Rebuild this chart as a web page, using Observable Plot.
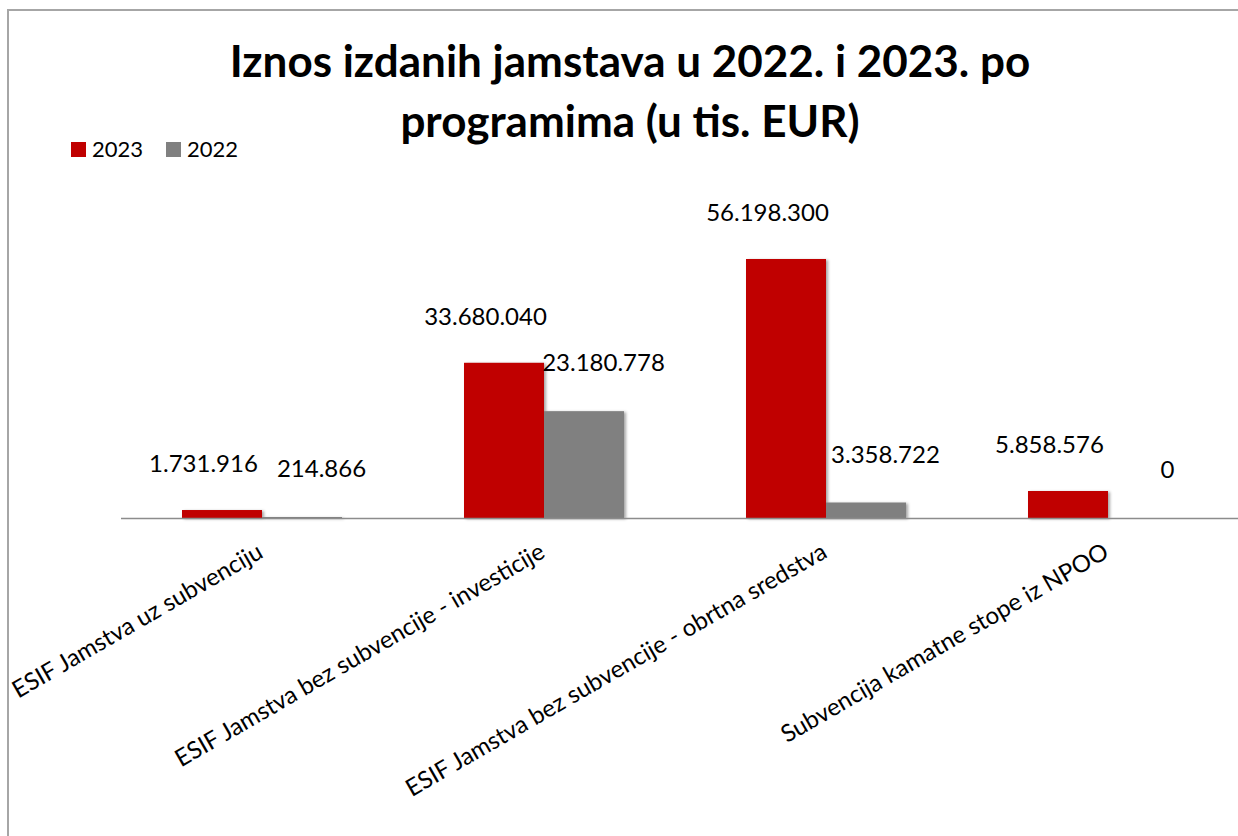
<!DOCTYPE html>
<html>
<head>
<meta charset="utf-8">
<script src="https://cdn.jsdelivr.net/npm/d3@7"></script>
<script src="https://cdn.jsdelivr.net/npm/@observablehq/plot@0.6"></script>
<style>
  body { margin: 0; background: #fff; overflow: hidden; }
  #wrap { position: relative; width: 1238px; height: 836px; overflow: hidden; font-family: Lato, "Open Sans", sans-serif; color: #000; }
  #frame { position: absolute; left: 7px; top: 9px; width: 1270px; height: 900px; border: 2px solid #a6a6a6; }
  #title { position: absolute; left: 0; width: 1260px; top: 30px; text-align: center; font-weight: bold; font-size: 44px; line-height: 60px; }
  #legend { position: absolute; left: 71px; top: 136px; display: flex; align-items: center; font-size: 22px; line-height: 26px; }
  #legend .sw { width: 15px; height: 15px; display: inline-block; margin-right: 6px; }
  #legend .item { display: flex; align-items: center; margin-right: 23px; }
  #chart { position: absolute; left: 0; top: 0; width: 1250px; }
  #chart svg { max-width: none !important; }
  #chart svg [aria-label="bar"] rect { filter: drop-shadow(2px 1px 1.5px rgba(0,0,0,0.35)); }
</style>
</head>
<body>
<div id="wrap">
  <div id="frame"></div>
  <div id="chart"></div>
  <div id="title">Iznos izdanih jamstava u 2022. i 2023. po<br>programima (u tis. EUR)</div>
  <div id="legend"></div>
</div>
<script>
const categories = [
  "ESIF Jamstva uz subvenciju",
  "ESIF Jamstva bez subvencije - investicije",
  "ESIF Jamstva bez subvencije - obrtna sredstva",
  "Subvencija kamatne stope iz NPOO"
];
const years = ["2023", "2022"];
const values2023 = [1731916, 33680040, 56198300, 5858576];
const values2022 = [214866, 23180778, 3358722, 0];
const colors = ["#c00000", "#808080"];

const data = [];
categories.forEach((c, i) => {
  data.push({category: c, year: "2023", value: values2023[i]});
  data.push({category: c, year: "2022", value: values2022[i]});
});

const fmt = d3.formatLocale({decimal: ",", thousands: ".", grouping: [3], currency: ["", ""]}).format(",d");

const legend = document.getElementById("legend");
years.forEach((y, i) => {
  const it = document.createElement("div");
  it.className = "item";
  it.innerHTML = `<span class="sw" style="background:${colors[i]}"></span><span>${y}</span>`;
  legend.appendChild(it);
});

const maxV = d3.max(data, d => d.value);

const chart = Plot.plot({
  width: 1250,
  height: 836,
  marginLeft: 119,
  marginRight: 0,
  marginTop: 259,
  marginBottom: 318,
  style: {fontFamily: "Lato, 'Open Sans', sans-serif", background: "transparent", overflow: "visible", maxWidth: "none"},
  fx: {domain: categories, padding: 0, axis: null, label: null},
  x: {domain: years, paddingInner: 0, paddingOuter: 0.745, axis: null, label: null},
  y: {domain: [0, maxV], axis: null, label: null},
  color: {domain: years, range: colors},
  marks: [
    Plot.barY(data, {fx: "category", x: "year", y: "value", fill: "year"}),
    Plot.ruleY([0], {stroke: "#8c8c8c", strokeWidth: 1.5}),
    Plot.text(data.filter(d => d.year === "2023"), {
      fx: "category", x: "year", y: "value", text: d => fmt(d.value),
      dy: -46, dx: -19, fontSize: 24, fill: "#000"
    }),
    Plot.text(data.filter(d => d.year === "2022"), {
      fx: "category", x: "year", y: "value", text: d => fmt(d.value),
      dy: -48, dx: 19, fontSize: 24, fill: "#000"
    }),
    Plot.text(categories, {
      fx: d => d, frameAnchor: "bottom", text: d => d,
      rotate: -30, textAnchor: "end", dy: 38, dx: 2, fontSize: 24, fill: "#000"
    })
  ]
});
document.getElementById("chart").appendChild(chart);
</script>
</body>
</html>
